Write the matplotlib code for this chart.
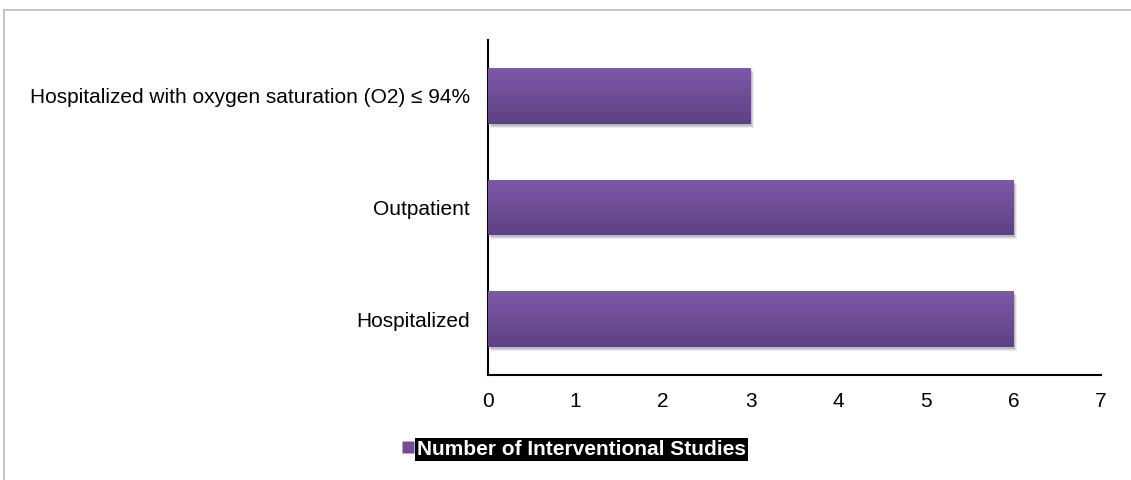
import matplotlib
matplotlib.use('Agg')
import matplotlib.pyplot as plt
import numpy as np
from matplotlib.colors import LinearSegmentedColormap
from matplotlib.lines import Line2D
from matplotlib.patches import Rectangle

plt.rcParams['font.family'] = ['Liberation Sans', 'DejaVu Sans']

# data (bottom to top)
categories = ['Hospitalized', 'Outpatient',
              'Hospitalized with oxygen saturation (O2) \u2264 94%']
studies = [6, 6, 3]
x_ticks = [0, 1, 2, 3, 4, 5, 6, 7]
series_name = 'Number of Interventional Studies'

top_color = '#7e58a9'
bottom_color = '#5d4282'
grad = LinearSegmentedColormap.from_list('bar', [bottom_color, top_color])

fig = plt.figure(figsize=(11.31, 4.8), dpi=100)
ax = fig.add_axes([0.4315, 0.2187, 0.542, 0.698])

y = np.arange(len(categories))
bars = ax.barh(y, studies, height=0.5, color=top_color, zorder=3)

# soft drop shadow + vertical gradient on each bar
gradient = np.linspace(0, 1, 64).reshape(-1, 1)
for b in bars:
    x0, y0 = b.get_x(), b.get_y()
    w, h = b.get_width(), b.get_height()
    for k, a in zip([0.06, 0.045, 0.03], [0.07, 0.09, 0.12]):
        ax.add_patch(Rectangle((x0 + k * 0.6, y0 - k * 0.6), w, h,
                               facecolor='black', alpha=a, lw=0, zorder=2))
    im = ax.imshow(gradient, cmap=grad, aspect='auto', origin='lower',
                   extent=(x0, x0 + w, y0, y0 + h), zorder=4)
    im.set_clip_path(b)

ax.set_xlim(0, 7)
ax.set_ylim(-0.5, len(categories) - 0.5)
ax.set_xticks(x_ticks)
ax.set_yticks(y)
ax.set_yticklabels(categories)
ax.tick_params(axis='both', length=0, labelsize=15, colors='black')
ax.tick_params(axis='y', pad=13)
ax.tick_params(axis='x', pad=12)
for side in ['top', 'right']:
    ax.spines[side].set_visible(False)
for side in ['left', 'bottom']:
    ax.spines[side].set_linewidth(1.5)
    ax.spines[side].set_color('black')

handle = Line2D([], [], marker='s', linestyle='none', markersize=9,
                markerfacecolor='#6f4e9a', markeredgecolor='none')
leg = fig.legend([handle], [series_name], loc='center',
                 bbox_to_anchor=(0.507, 0.064), frameon=False,
                 handletextpad=0.1, handlelength=0.7,
                 prop={'size': 15, 'weight': 'bold'})
for t in leg.get_texts():
    t.set_color('white')
    t.set_bbox(dict(facecolor='black', edgecolor='none', pad=1.5))

# outer chart-area border (cut at right/bottom like the original)
fig.add_artist(Line2D([3.5 / 1131, 1.0], [1 - 9.5 / 480] * 2,
                      color='#c6c6c6', lw=1.5))
fig.add_artist(Line2D([3.5 / 1131] * 2, [0.0, 1 - 9.5 / 480],
                      color='#c6c6c6', lw=1.5))

fig.savefig('out.png', dpi=100)
